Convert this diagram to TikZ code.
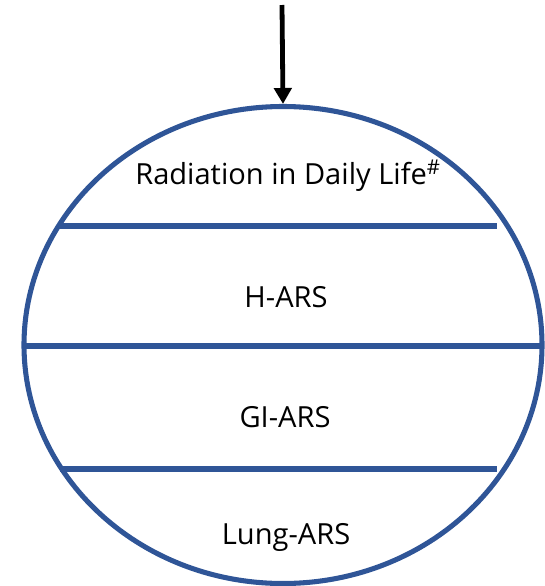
\documentclass[tikz,border=0pt]{standalone}
\usepackage{fontspec}
\setmainfont{Open Sans}
\usetikzlibrary{arrows.meta,shapes.geometric}
\definecolor{ringblue}{HTML}{2F5597}
\tikzset{
  ring/.style={draw=ringblue, line width=3.8pt},
  divider/.style={draw=ringblue, line width=3.8pt},
  label/.style={font=\fontsize{21.8}{26}\selectfont, text=black, inner sep=0pt},
  feed/.style={draw=black, line width=3.6pt, -{Triangle[length=12pt,width=13pt]}}
}
\begin{document}
\begin{tikzpicture}[x=0.75pt, y=-0.75pt]
\useasboundingbox (0,0) rectangle (545,586);
\node[ring, ellipse, minimum width=388.5pt, minimum height=357.75pt, inner sep=0pt] (ring) at (283,345) {};
\coordinate (src) at (282,5);
\draw[feed] (src) -- (ring.north);
\coordinate (l1a) at (58,226); \coordinate (l1b) at (497,226);
\coordinate (l2a) at (26,346); \coordinate (l2b) at (540,346);
\coordinate (l3a) at (60,469); \coordinate (l3b) at (497,469);
\draw[divider] (l1a) -- (l1b);
\draw[divider] (l2a) -- (l2b);
\draw[divider] (l3a) -- (l3b);
\node[label] (t1) at (288,176) {Radiation in Daily Life\textsuperscript{\#}};
\node[label] (t2) at (286,297) {H-ARS};
\node[label] (t3) at (285,417) {GI-ARS};
\node[label] (t4) at (286,537) {Lung-ARS};
\end{tikzpicture}
\end{document}
